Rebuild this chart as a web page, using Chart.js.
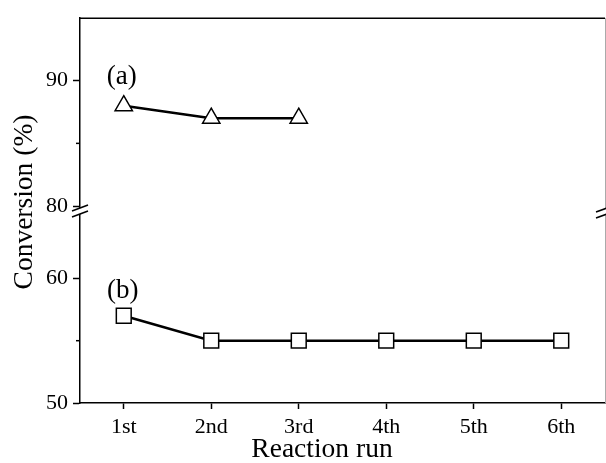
<!DOCTYPE html>
<html>
<head>
<meta charset="utf-8">
<script src="https://cdn.jsdelivr.net/npm/chart.js@4/dist/chart.umd.min.js"></script>
<style>
  body { margin: 0; background: #fff; }
  #wrap { width: 606px; height: 463px; }
</style>
</head>
<body>
<div id="wrap"><canvas id="myChart" width="606" height="463"></canvas></div>
<script>
// categories
const runs = ['1st', '2nd', '3rd', '4th', '5th', '6th'];
// (a) triangles, upper part of the broken axis
const seriesA = [88, 87, 87];
// (b) squares, lower part
const seriesB = [57, 55, 55, 55, 55, 55];

// tick values for both halves of the y axis
const topTicks = [80, 90];
const topMinor = [85];
const bottomTicks = [50, 60];
const bottomMinor = [55];

const serif = 'Liberation Serif';

// broken axis, titles and (a)/(b) labels
const decorPlugin = {
  id: 'decor',
  afterDraw(chart) {
    const ctx = chart.ctx;
    const area = chart.chartArea;
    const yTop = chart.scales.yTop;
    const yBot = chart.scales.yBot;
    const xs = chart.scales.x;
    ctx.save();

    // top border + light right border
    ctx.strokeStyle = '#000';
    ctx.lineWidth = 1.5;
    ctx.beginPath();
    ctx.moveTo(area.left, area.top);
    ctx.lineTo(area.right, area.top);
    ctx.stroke();
    ctx.strokeStyle = '#aaa';
    ctx.lineWidth = 1;
    ctx.beginPath();
    ctx.moveTo(area.right + 0.5, area.top);
    ctx.lineTo(area.right + 0.5, area.bottom);
    ctx.stroke();

    // minor ticks
    ctx.strokeStyle = '#000';
    ctx.lineWidth = 1.5;
    const minor = (scale, v) => {
      const y = scale.getPixelForValue(v);
      ctx.beginPath();
      ctx.moveTo(area.left - 4, y);
      ctx.lineTo(area.left, y);
      ctx.stroke();
    };
    topMinor.forEach(v => minor(yTop, v));
    bottomMinor.forEach(v => minor(yBot, v));

    // axis break
    const yb = yTop.bottom;
    ctx.fillStyle = '#fff';
    ctx.fillRect(area.left - 2, yb - 3, 4, 6);
    ctx.fillRect(area.right - 1, yb - 2, 3, 6);
    ctx.lineWidth = 1.6;
    const slash = (x1, y1, x2, y2) => {
      ctx.beginPath();
      ctx.moveTo(x1, y1);
      ctx.lineTo(x2, y2);
      ctx.stroke();
    };
    slash(area.left - 8, yb, area.left + 8, yb - 6);
    slash(area.left - 8, yb + 6, area.left + 8, yb);
    slash(area.right - 9, yb + 1, area.right + 2, yb - 3);
    slash(area.right - 9, yb + 7, area.right + 2, yb + 3);

    // labels (a) and (b)
    ctx.fillStyle = '#000';
    ctx.font = '27px ' + serif;
    ctx.textAlign = 'center';
    ctx.textBaseline = 'middle';
    ctx.fillText('(a)', xs.getPixelForValue(0) - 2, yTop.getPixelForValue(90.3));
    ctx.fillText('(b)', xs.getPixelForValue(0) - 1, yBot.getPixelForValue(59));

    // axis titles
    ctx.font = '27.5px ' + serif;
    ctx.fillText('Reaction run', 322, 450);
    ctx.translate(25, 202);
    ctx.rotate(-Math.PI / 2);
    ctx.fillText('Conversion (%)', 0, 0);
    ctx.restore();
  }
};

const yAxis = (min, max, ticks, weight) => ({
  type: 'linear',
  position: 'left',
  stack: 'conv',
  stackWeight: weight,
  min: min,
  max: max,
  afterBuildTicks: scale => { scale.ticks = ticks.map(v => ({ value: v })); },
  afterFit: scale => { scale.width = 80; },
  border: { display: true, color: '#000', width: 1.5 },
  grid: { drawOnChartArea: false, drawTicks: true, tickLength: 7, tickColor: '#000', tickWidth: 1.5 },
  ticks: { color: '#000', padding: 5, font: { family: serif, size: 22 } }
});

new Chart(document.getElementById('myChart').getContext('2d'), {
  type: 'line',
  data: {
    labels: runs,
    datasets: [
      {
        label: '(a)',
        data: seriesA,
        yAxisID: 'yTop',
        borderColor: '#000',
        borderWidth: 2.5,
        pointStyle: 'triangle',
        pointRadius: 10,
        pointBorderWidth: 1.5,
        pointBackgroundColor: '#fff',
        pointBorderColor: '#000',
        tension: 0
      },
      {
        label: '(b)',
        data: seriesB,
        yAxisID: 'yBot',
        borderColor: '#000',
        borderWidth: 2.5,
        pointStyle: 'rect',
        pointRadius: 10.5,
        pointBorderWidth: 1.5,
        pointBackgroundColor: '#fff',
        pointBorderColor: '#000',
        tension: 0
      }
    ]
  },
  options: {
    responsive: false,
    animation: false,
    devicePixelRatio: 1,
    layout: { autoPadding: false, padding: { top: 14, right: 1, left: 0, bottom: 0 } },
    plugins: { legend: { display: false }, tooltip: { enabled: false } },
    scales: {
      x: {
        type: 'category',
        offset: true,
        afterFit: scale => { scale.height = 60; },
        border: { display: true, color: '#000', width: 1.5 },
        grid: { drawOnChartArea: false, drawTicks: true, tickLength: 6, tickColor: '#000', tickWidth: 1.5 },
        ticks: { color: '#000', padding: 5, maxRotation: 0, font: { family: serif, size: 22 } }
      },
      yBot: yAxis(50, 65.4, bottomTicks, 194),
      yTop: yAxis(79.61, 94.96, topTicks, 195)
    }
  },
  plugins: [decorPlugin]
});
</script>
</body>
</html>
